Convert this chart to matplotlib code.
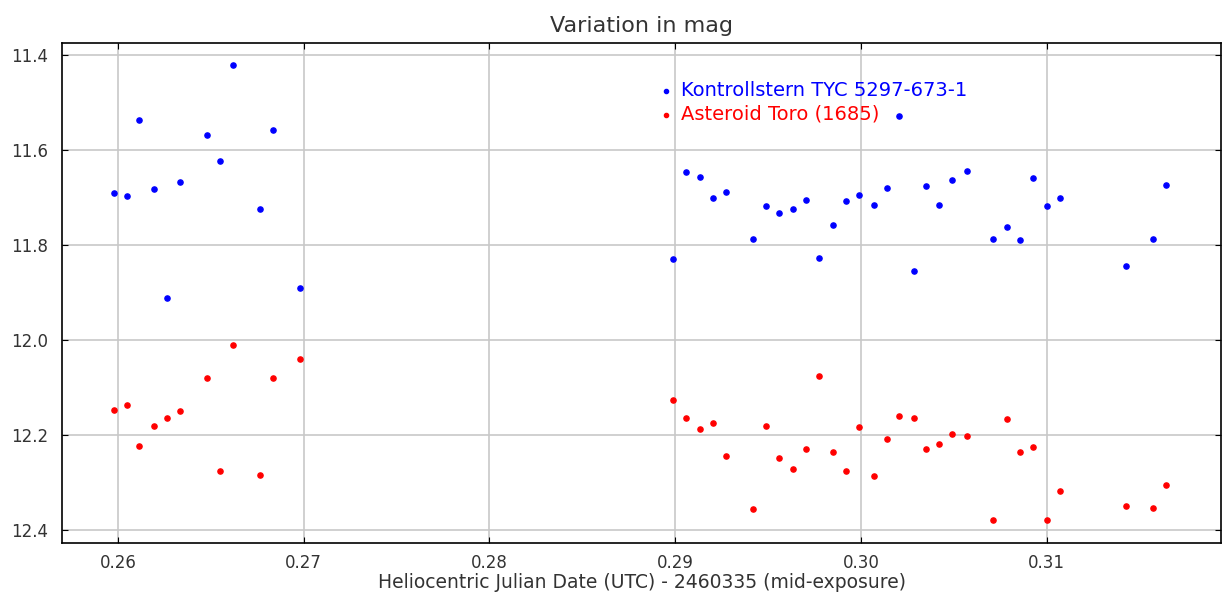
import matplotlib
matplotlib.use("Agg")
import matplotlib.pyplot as plt

# HJD - 2460335, comparison star (blue)
star_x = [0.25978, 0.26047, 0.26115, 0.26194, 0.26264, 0.26334, 0.26481, 0.26549,
          0.26617, 0.26764, 0.26836, 0.26981,
          0.28988, 0.29058, 0.29135, 0.29204, 0.29274, 0.29421, 0.29490, 0.29559,
          0.29636, 0.29705, 0.29775, 0.29852, 0.29921, 0.29991, 0.30069, 0.30139,
          0.30205, 0.30284, 0.30352, 0.30419, 0.30492, 0.30571, 0.30709, 0.30786,
          0.30854, 0.30924, 0.31001, 0.31071, 0.31426, 0.31573, 0.31641]
star_mag = [11.691, 11.698, 11.538, 11.682, 11.912, 11.667, 11.569, 11.623,
            11.422, 11.725, 11.558, 11.891,
            11.830, 11.647, 11.657, 11.701, 11.688, 11.787, 11.718, 11.732,
            11.725, 11.705, 11.827, 11.759, 11.708, 11.695, 11.715, 11.681,
            11.528, 11.854, 11.677, 11.715, 11.664, 11.644, 11.787, 11.762,
            11.790, 11.660, 11.718, 11.701, 11.844, 11.787, 11.674]

# asteroid (red), same epochs
toro_mag = [12.147, 12.136, 12.222, 12.181, 12.164, 12.150, 12.079, 12.276,
            12.011, 12.283, 12.079, 12.041,
            12.126, 12.164, 12.188, 12.174, 12.245, 12.355, 12.181, 12.249,
            12.272, 12.229, 12.075, 12.235, 12.276, 12.184, 12.286, 12.208,
            12.160, 12.164, 12.229, 12.218, 12.198, 12.201, 12.378, 12.167,
            12.235, 12.225, 12.378, 12.317, 12.350, 12.354, 12.306]

plt.rcParams['font.family'] = ['DejaVu Sans']
txtcol = '#333333'

fig = plt.figure(figsize=(12.23, 5.96), dpi=100)
ax = fig.add_axes([0.0507, 0.089, 0.948, 0.839])

ax.scatter(star_x, star_mag, s=14, color='#0000ff', zorder=3,
           label='Kontrollstern TYC 5297-673-1')
ax.scatter(star_x, toro_mag, s=14, color='#ff0000', zorder=3,
           label='Asteroid Toro (1685)')

ax.set_xlim(0.25699, 0.31941)
ax.set_ylim(12.427, 11.375)
ax.set_xticks([0.26, 0.27, 0.28, 0.29, 0.30, 0.31])
ax.set_xticklabels(['0.26', '0.27', '0.28', '0.29', '0.30', '0.31'])
ax.set_yticks([11.4, 11.6, 11.8, 12.0, 12.2, 12.4])
ax.grid(True, color='#c8c8c8', linewidth=1.2)
ax.set_axisbelow(True)
ax.tick_params(direction='in', top=True, right=True, length=4, labelsize=12,
               labelcolor=txtcol)
ax.tick_params(axis='x', pad=8)
ax.tick_params(axis='y', pad=10)
for s in ax.spines.values():
    s.set_linewidth(1.2)

ax.set_title('Variation in mag', fontsize=16, color=txtcol, pad=8)
ax.set_xlabel('Heliocentric Julian Date (UTC) - 2460335 (mid-exposure)',
              fontsize=13.5, color=txtcol, labelpad=1)

leg = ax.legend(loc='upper left', bbox_to_anchor=(0.514, 0.924), frameon=False,
                handletextpad=0.4, handlelength=0.8, markerscale=0.8, fontsize=14,
                labelspacing=0.25, borderaxespad=0, borderpad=0)
for txt, h in zip(leg.get_texts(), leg.legend_handles):
    txt.set_color(h.get_facecolor()[0])

fig.savefig('out.png', dpi=100)
